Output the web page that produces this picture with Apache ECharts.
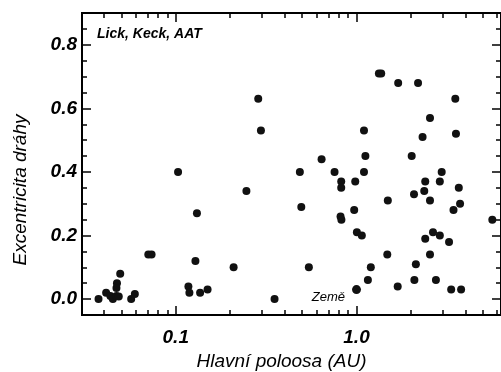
<!DOCTYPE html>
<html>
<head>
<meta charset="utf-8">
<script src="https://cdn.jsdelivr.net/npm/echarts@6/dist/echarts.min.js"></script>
<style>
  html, body { margin: 0; padding: 0; background: #fff; }
  #chart { width: 501px; height: 372px; }
</style>
</head>
<body>
<div id="chart"></div>
<script>
// hlavní poloosa (AU) a excentricita
var semiMajor = [0.0374, 0.0412, 0.0435, 0.0449, 0.047, 0.0484, 0.0473, 0.047, 0.0493, 0.0567,
  0.0594, 0.0705, 0.0735, 0.103, 0.1175, 0.119, 0.1285, 0.131, 0.1364, 0.150,
  0.209, 0.246, 0.286, 0.296, 0.352, 0.486, 0.495, 0.545, 0.641, 0.756,
  0.823, 0.823, 0.816, 0.825, 0.971, 0.984, 1.005, 1.07, 1.10, 1.10,
  1.12, 1.156, 1.20, 1.33, 1.37, 1.48, 1.49, 1.69, 1.70, 2.02,
  2.08, 2.09, 2.13, 2.19, 2.32, 2.37, 2.40, 2.40, 2.55, 2.55,
  2.55, 2.65, 2.75, 2.89, 2.89, 2.96, 3.25, 3.34, 3.44, 3.52,
  3.55, 3.68, 3.74, 3.79, 5.64];
var eccentricity = [0.00, 0.02, 0.01, 0.00, 0.01, 0.008, 0.05, 0.035, 0.08, 0.00,
  0.016, 0.14, 0.14, 0.40, 0.04, 0.02, 0.12, 0.27, 0.02, 0.03,
  0.10, 0.34, 0.63, 0.53, 0.00, 0.40, 0.29, 0.10, 0.44, 0.40,
  0.37, 0.35, 0.26, 0.25, 0.28, 0.37, 0.21, 0.20, 0.40, 0.53,
  0.45, 0.06, 0.10, 0.71, 0.71, 0.14, 0.31, 0.04, 0.68, 0.45,
  0.33, 0.06, 0.11, 0.68, 0.51, 0.34, 0.37, 0.19, 0.57, 0.31,
  0.14, 0.21, 0.06, 0.37, 0.20, 0.40, 0.18, 0.03, 0.28, 0.63,
  0.52, 0.35, 0.30, 0.03, 0.25];
var earth = [1.0, 0.03];

var xRange = [0.0303, 6.3];
var yRange = [-0.05, 0.9];
var xMajor = [0.1, 1];
var xMinor = [0.04, 0.05, 0.06, 0.07, 0.08, 0.09, 0.2, 0.3, 0.4, 0.5, 0.6, 0.7, 0.8, 0.9, 2, 3, 4, 5, 6];
var yMajor = [0, 0.2, 0.4, 0.6, 0.8];
var yMinor = [0.05, 0.1, 0.15, 0.25, 0.3, 0.35, 0.45, 0.5, 0.55, 0.65, 0.7, 0.75, 0.85];

var font = "'Liberation Sans', Arial, sans-serif";
var lg = function (v) { return Math.log10(v); };

function axis(dim, pos, ticks, len, withLabel) {
  var a = {
    type: 'value',
    position: pos,
    min: dim === 'x' ? lg(xRange[0]) : yRange[0],
    max: dim === 'x' ? lg(xRange[1]) : yRange[1],
    axisLine: { show: true, onZero: false, lineStyle: { color: '#000', width: 2 } },
    axisTick: { show: true, inside: true, length: len, customValues: ticks, lineStyle: { color: '#000', width: 1.5 } },
    axisLabel: { show: false },
    splitLine: { show: false }
  };
  if (withLabel) {
    a.axisLabel = {
      show: true,
      customValues: withLabel,
      color: '#000',
      fontFamily: font,
      fontSize: 19,
      fontWeight: 'bold',
      fontStyle: 'italic',
      margin: dim === 'x' ? 13 : 5,
      formatter: dim === 'x'
        ? function (v) { return Math.pow(10, v).toFixed(1); }
        : function (v) { return v.toFixed(1); }
    };
  }
  return a;
}

var xs = [
  axis('x', 'bottom', xMajor.map(lg), 9, [-1, 0]),
  axis('x', 'bottom', xMinor.map(lg), 5),
  axis('x', 'top', xMajor.map(lg), 9),
  axis('x', 'top', xMinor.map(lg), 5)
];
xs[0].name = 'Hlavní poloosa (AU)';
xs[0].nameLocation = 'middle';
xs[0].nameGap = 37;
xs[0].nameTextStyle = { color: '#000', fontFamily: font, fontSize: 19, fontStyle: 'italic', padding: [0, 20, 0, 0] };

var ys = [
  axis('y', 'left', yMajor, 9, yMajor),
  axis('y', 'left', yMinor, 5),
  axis('y', 'right', yMajor, 9),
  axis('y', 'right', yMinor, 5)
];
ys[0].name = 'Excentricita dráhy';
ys[0].nameLocation = 'middle';
ys[0].nameGap = 52;
ys[0].nameTextStyle = { color: '#000', fontFamily: font, fontSize: 19, fontStyle: 'italic', padding: [0, 52, 0, 0] };

var myChart = echarts.init(document.getElementById('chart'), null, { renderer: 'canvas' });
myChart.setOption({
  animation: false,
  backgroundColor: '#fff',
  title: {
    text: 'Lick, Keck, AAT',
    left: 97,
    top: 27,
    padding: 0,
    textStyle: { color: '#000', fontFamily: font, fontSize: 14, fontWeight: 'bold', fontStyle: 'italic' }
  },
  grid: {
    left: 82, top: 13, right: 0, bottom: 57,
    containLabel: false,
    outerBoundsMode: 'none',
    show: true,
    borderColor: '#000',
    borderWidth: 2
  },
  xAxis: xs,
  yAxis: ys,
  series: [
    {
      type: 'scatter',
      xAxisIndex: 0,
      yAxisIndex: 0,
      symbolSize: 8,
      itemStyle: { color: '#111', opacity: 1 },
      data: semiMajor.map(function (a, i) { return [lg(a), eccentricity[i]]; })
    },
    {
      type: 'scatter',
      xAxisIndex: 0,
      yAxisIndex: 0,
      symbolSize: 9,
      itemStyle: { color: '#111', opacity: 1 },
      label: {
        show: true,
        position: 'left',
        distance: 7,
        offset: [0, 8],
        formatter: 'Země',
        color: '#000',
        fontFamily: font,
        fontSize: 13,
        fontStyle: 'italic'
      },
      data: [[lg(earth[0]), earth[1]]]
    }
  ]
});
</script>
</body>
</html>
